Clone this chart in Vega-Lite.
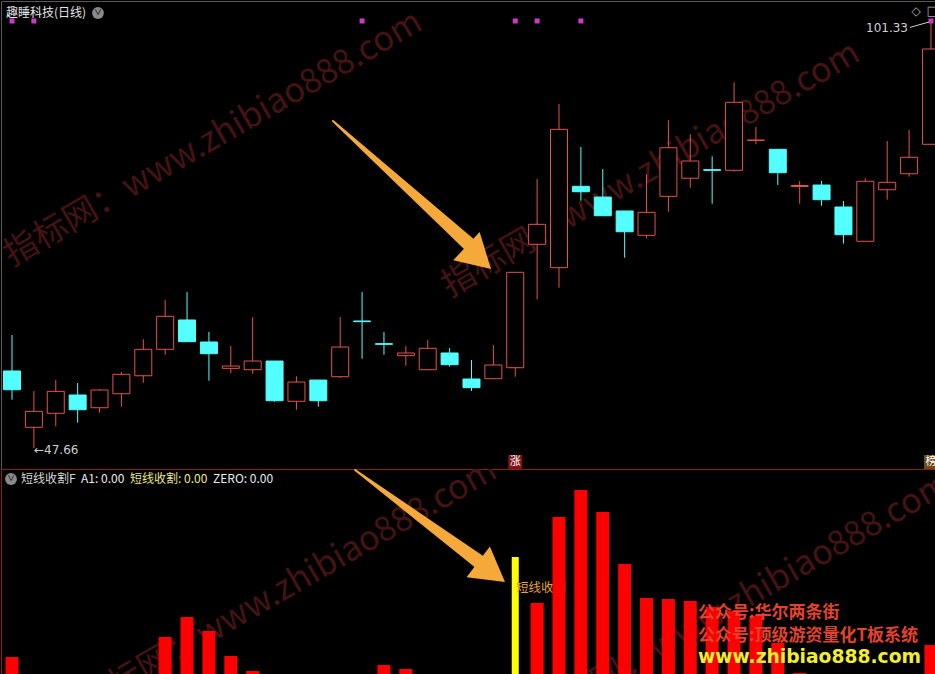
{
  "$schema": "https://vega.github.io/schema/vega-lite/v6.json",
  "background": "#000000",
  "padding": 0,
  "spacing": 0,
  "bounds": "flush",
  "config": {
    "view": {"stroke": null},
    "text": {"font": "Noto Sans CJK SC"},
    "axis": {"minExtent": 0, "maxExtent": 0},
    "scale": {"continuousPadding": 0}
  },
  "datasets": {
    "k": [
      {"i": 0, "o": 57.34, "h": 61.86, "l": 53.73, "c": 54.98, "bar": 18, "dot": 1},
      {"i": 1, "o": 50.26, "h": 54.82, "l": 47.66, "c": 52.27, "dot": 1},
      {"i": 2, "o": 52.02, "h": 56.2, "l": 50.38, "c": 54.78},
      {"i": 3, "o": 54.32, "h": 55.83, "l": 50.84, "c": 52.47},
      {"i": 4, "o": 52.72, "h": 55.07, "l": 52.09, "c": 54.95},
      {"i": 5, "o": 54.48, "h": 57.21, "l": 52.85, "c": 56.92},
      {"i": 6, "o": 56.74, "h": 61.32, "l": 55.86, "c": 60.06},
      {"i": 7, "o": 60.06, "h": 66.26, "l": 59.38, "c": 64.21, "bar": 38},
      {"i": 8, "o": 63.75, "h": 67.26, "l": 61.02, "c": 61.02, "bar": 58},
      {"i": 9, "o": 60.98, "h": 62.24, "l": 56.12, "c": 59.51, "bar": 44},
      {"i": 10, "o": 57.67, "h": 60.48, "l": 57.05, "c": 57.96, "bar": 19},
      {"i": 11, "o": 57.5, "h": 64.12, "l": 56.99, "c": 58.59, "bar": 4},
      {"i": 12, "o": 58.59, "h": 58.59, "l": 53.48, "c": 53.6},
      {"i": 13, "o": 53.53, "h": 56.67, "l": 52.47, "c": 55.95},
      {"i": 14, "o": 56.2, "h": 56.2, "l": 52.85, "c": 53.6},
      {"i": 15, "o": 56.62, "h": 64.12, "l": 56.49, "c": 60.35},
      {"i": 16, "o": 63.62, "h": 67.26, "l": 58.88, "c": 63.54, "dot": 1},
      {"i": 17, "o": 60.77, "h": 62.24, "l": 59.38, "c": 60.69, "bar": 10},
      {"i": 18, "o": 59.26, "h": 60.48, "l": 58.0, "c": 59.6, "bar": 6},
      {"i": 19, "o": 57.5, "h": 61.23, "l": 57.5, "c": 60.19},
      {"i": 20, "o": 59.6, "h": 60.23, "l": 57.88, "c": 58.13},
      {"i": 21, "o": 56.33, "h": 58.72, "l": 54.82, "c": 55.24},
      {"i": 22, "o": 56.37, "h": 60.6, "l": 56.37, "c": 58.09},
      {"i": 23, "o": 57.75, "h": 69.74, "l": 56.62, "c": 69.74, "yb": 118, "dot": 1, "tag": "涨"},
      {"i": 24, "o": 73.26, "h": 81.47, "l": 66.35, "c": 75.77, "bar": 72, "dot": 1},
      {"i": 25, "o": 70.32, "h": 90.89, "l": 67.81, "c": 87.71, "bar": 158},
      {"i": 26, "o": 80.55, "h": 85.49, "l": 78.74, "c": 79.87, "bar": 185, "dot": 1},
      {"i": 27, "o": 79.2, "h": 82.72, "l": 76.85, "c": 76.85, "bar": 163},
      {"i": 28, "o": 77.45, "h": 77.45, "l": 71.58, "c": 74.84, "bar": 111},
      {"i": 29, "o": 74.39, "h": 82.06, "l": 74.01, "c": 77.28, "bar": 77},
      {"i": 30, "o": 79.29, "h": 88.85, "l": 77.36, "c": 85.4, "bar": 76},
      {"i": 31, "o": 81.56, "h": 87.09, "l": 80.37, "c": 83.73, "bar": 74},
      {"i": 32, "o": 82.64, "h": 84.32, "l": 78.36, "c": 82.56, "bar": 68},
      {"i": 33, "o": 82.56, "h": 93.62, "l": 82.39, "c": 91.11, "bar": 64},
      {"i": 34, "o": 86.31, "h": 88.0, "l": 85.83, "c": 86.37, "bar": 59},
      {"i": 35, "o": 85.2, "h": 85.2, "l": 80.71, "c": 82.26, "bar": 32},
      {"i": 36, "o": 80.52, "h": 81.22, "l": 78.36, "c": 80.65, "bar": 2},
      {"i": 37, "o": 80.71, "h": 81.22, "l": 78.11, "c": 78.87},
      {"i": 38, "o": 77.95, "h": 78.7, "l": 73.34, "c": 74.47},
      {"i": 39, "o": 73.64, "h": 81.56, "l": 73.64, "c": 81.18},
      {"i": 40, "o": 80.12, "h": 86.24, "l": 78.87, "c": 81.05},
      {"i": 41, "o": 82.13, "h": 87.63, "l": 81.76, "c": 84.2},
      {"i": 42, "o": 85.83, "h": 101.33, "l": 85.83, "c": 97.81, "bar": 30, "dot": 1, "tag": "榜"}
    ],
    "arrowTop": [
      {"i": 14.67, "p": 88.76, "t": 0},
      {"i": 20.98, "p": 73.05, "t": 1}
    ],
    "arrowBottom": [
      {"i": 15.68, "v": 205, "t": 0},
      {"i": 21.43, "v": 112, "t": 1}
    ]
  },
  "vconcat": [
    {
      "width": 935,
      "height": 468,
      "view": {"stroke": "#5a5a5a"},
      "data": {"name": "k"},
      "layer": [
        {
          "mark": {"type": "rule", "strokeWidth": 1, "clip": true},
          "encoding": {
            "x": {"field": "i", "type": "quantitative", "scale": {"domain": [-0.503, 42.23], "nice": false, "zero": false, "padding": 0}, "axis": null},
            "y": {"field": "l", "type": "quantitative", "scale": {"domain": [45.02, 103.84], "nice": false, "zero": false, "padding": 0}, "title": null, "axis": {"title": null, "labels": false, "ticks": false, "domain": false, "grid": true, "gridColor": "#7a2626", "gridDash": [1, 3], "gridWidth": 1, "values": [49.8, 54.79, 59.78, 64.77, 69.76, 74.75, 79.74, 84.73, 89.72, 94.71, 99.7]}},
            "y2": {"field": "h"},
            "opacity": {"value": 0}
          }
        },
        {
          "data": {"values": [{}]},
          "mark": {"type": "text", "text": "指标网：www.zhibiao888.com", "angle": 330, "fontSize": 34, "color": "#461313", "clip": true},
          "encoding": {
            "x": {"datum": 9.2, "type": "quantitative", "axis": null},
            "y": {"datum": 86.5, "type": "quantitative", "axis": null}
          }
        },
        {
          "data": {"values": [{}]},
          "mark": {"type": "text", "text": "指标网：www.zhibiao888.com", "angle": 330, "fontSize": 34, "color": "#461313", "clip": true},
          "encoding": {
            "x": {"datum": 29.2, "type": "quantitative", "axis": null},
            "y": {"datum": 82.6, "type": "quantitative", "axis": null}
          }
        },
        {
          "mark": {"type": "rule", "strokeWidth": 1, "clip": true},
          "encoding": {
            "x": {"field": "i", "type": "quantitative", "axis": null},
            "y": {"field": "l", "type": "quantitative", "axis": null},
            "y2": {"field": "h"},
            "color": {"condition": {"test": "datum.c > datum.o", "value": "#e5534b"}, "value": "#54ffff"}
          }
        },
        {
          "mark": {"type": "bar", "width": 17, "strokeWidth": 1, "clip": true},
          "encoding": {
            "x": {"field": "i", "type": "quantitative", "axis": null},
            "y": {"field": "o", "type": "quantitative", "axis": null},
            "y2": {"field": "c"},
            "fill": {"condition": {"test": "datum.c > datum.o", "value": "#000000"}, "value": "#54ffff"},
            "stroke": {"condition": {"test": "datum.c > datum.o", "value": "#e5534b"}, "value": "#54ffff"}
          }
        },
        {
          "transform": [{"filter": "datum.dot == 1"}],
          "mark": {"type": "square", "size": 25, "color": "#c83cc8", "opacity": 1, "clip": true},
          "encoding": {
            "x": {"field": "i", "type": "quantitative", "axis": null},
            "y": {"datum": 101.33, "type": "quantitative", "axis": null}
          }
        },
        {
          "transform": [{"filter": "isValid(datum.tag)"}],
          "mark": {"type": "square", "size": 196, "opacity": 1, "clip": true},
          "encoding": {
            "x": {"field": "i", "type": "quantitative", "axis": null},
            "y": {"datum": 45.9, "type": "quantitative", "axis": null},
            "color": {"condition": {"test": "datum.tag == '涨'", "value": "#7e1515"}, "value": "#6e4c1c"}
          }
        },
        {
          "transform": [{"filter": "isValid(datum.tag)"}],
          "mark": {"type": "text", "fontSize": 11, "color": "#ffffff", "clip": true},
          "encoding": {
            "x": {"field": "i", "type": "quantitative", "axis": null},
            "y": {"datum": 45.9, "type": "quantitative", "axis": null},
            "text": {"field": "tag"}
          }
        },
        {
          "data": {"values": [{}]},
          "mark": {"type": "text", "text": "趣睡科技(日线)", "align": "left", "fontSize": 12, "color": "#e6e6e6"},
          "encoding": {
            "x": {"datum": -0.274, "type": "quantitative", "axis": null},
            "y": {"datum": 102.33, "type": "quantitative", "axis": null}
          }
        },
        {
          "data": {"values": [{}]},
          "mark": {"type": "circle", "size": 140, "color": "#8a8a8a", "opacity": 1},
          "encoding": {
            "x": {"datum": 3.93, "type": "quantitative", "axis": null},
            "y": {"datum": 102.33, "type": "quantitative", "axis": null}
          }
        },
        {
          "data": {"values": [{}]},
          "mark": {"type": "text", "text": "∨", "fontSize": 8, "fontWeight": "bold", "color": "#2a2a2a"},
          "encoding": {
            "x": {"datum": 3.93, "type": "quantitative", "axis": null},
            "y": {"datum": 102.33, "type": "quantitative", "axis": null}
          }
        },
        {
          "data": {"values": [{}]},
          "mark": {"type": "text", "text": "101.33", "align": "right", "fontSize": 12, "color": "#d0d0d0", "font": "DejaVu Sans"},
          "encoding": {
            "x": {"datum": 40.95, "type": "quantitative", "axis": null},
            "y": {"datum": 100.45, "type": "quantitative", "axis": null}
          }
        },
        {
          "data": {"values": [{"a": 41.04, "b": 100.52, "a2": 41.91, "b2": 101.2}]},
          "mark": {"type": "rule", "strokeWidth": 1, "color": "#d0d0d0"},
          "encoding": {
            "x": {"field": "a", "type": "quantitative", "axis": null},
            "x2": {"field": "a2"},
            "y": {"field": "b", "type": "quantitative", "axis": null},
            "y2": {"field": "b2"}
          }
        },
        {
          "data": {"values": [{}]},
          "mark": {"type": "text", "text": "←47.66", "align": "left", "fontSize": 12, "color": "#d0d0d0", "font": "DejaVu Sans"},
          "encoding": {
            "x": {"datum": 1.005, "type": "quantitative", "axis": null},
            "y": {"datum": 47.4, "type": "quantitative", "axis": null}
          }
        },
        {
          "data": {"values": [{}]},
          "mark": {"type": "text", "text": "◇", "fontSize": 12, "color": "#a8a8a8", "font": "DejaVu Sans", "clip": true},
          "encoding": {
            "x": {"datum": 41.32, "type": "quantitative", "axis": null},
            "y": {"datum": 102.58, "type": "quantitative", "axis": null}
          }
        },
        {
          "data": {"values": [{}]},
          "mark": {"type": "text", "text": "□", "fontSize": 13, "color": "#a8a8a8", "font": "DejaVu Sans", "clip": true},
          "encoding": {
            "x": {"datum": 42.08, "type": "quantitative", "axis": null},
            "y": {"datum": 102.58, "type": "quantitative", "axis": null}
          }
        },
        {
          "data": {"name": "arrowTop"},
          "mark": {"type": "trail", "color": "#f4a93a", "clip": true},
          "encoding": {
            "x": {"field": "i", "type": "quantitative", "axis": null},
            "y": {"field": "p", "type": "quantitative", "axis": null},
            "size": {"field": "t", "type": "quantitative", "scale": {"range": [2, 14]}, "legend": null}
          }
        },
        {
          "data": {"values": [{}]},
          "mark": {"type": "point", "shape": "triangle-up", "filled": true, "size": 1500, "angle": 133, "color": "#f4a93a", "opacity": 1, "clip": true},
          "encoding": {
            "x": {"datum": 21.33, "type": "quantitative", "axis": null},
            "y": {"datum": 71.6, "type": "quantitative", "axis": null}
          }
        }
      ]
    },
    {
      "width": 935,
      "height": 206,
      "view": {"stroke": "#8a1e1e"},
      "data": {"name": "k"},
      "layer": [
        {
          "mark": {"type": "bar", "width": 13, "color": "#ff0000", "clip": true},
          "encoding": {
            "x": {"field": "i", "type": "quantitative", "scale": {"domain": [-0.503, 42.23], "nice": false, "zero": false, "padding": 0}, "axis": null},
            "y": {"field": "bar", "type": "quantitative", "scale": {"domain": [0, 206], "nice": false, "zero": false, "padding": 0}, "axis": {"title": null, "labels": false, "ticks": false, "domain": false, "grid": true, "gridColor": "#7a2626", "gridDash": [1, 3], "gridWidth": 1, "values": [18, 62, 105, 149]}},
            "opacity": {"value": 0}
          }
        },
        {
          "data": {"values": [{}]},
          "mark": {"type": "text", "text": "指标网：www.zhibiao888.com", "angle": 330, "fontSize": 34, "color": "#461313", "clip": true},
          "encoding": {
            "x": {"datum": 12.61, "type": "quantitative", "axis": null},
            "y": {"datum": 88, "type": "quantitative", "axis": null}
          }
        },
        {
          "data": {"values": [{}]},
          "mark": {"type": "text", "text": "指标网：www.zhibiao888.com", "angle": 330, "fontSize": 34, "color": "#461313", "clip": true},
          "encoding": {
            "x": {"datum": 33.32, "type": "quantitative", "axis": null},
            "y": {"datum": 74, "type": "quantitative", "axis": null}
          }
        },
        {
          "mark": {"type": "bar", "width": 7, "color": "#ffff00", "clip": true},
          "encoding": {
            "x": {"field": "i", "type": "quantitative", "axis": null},
            "y": {"field": "yb", "type": "quantitative", "axis": null}
          }
        },
        {
          "data": {"values": [{}]},
          "mark": {"type": "text", "text": "短线收割", "align": "left", "fontSize": 12.5, "color": "#e8a040", "clip": true},
          "encoding": {
            "x": {"datum": 23.04, "type": "quantitative", "axis": null},
            "y": {"datum": 87, "type": "quantitative", "axis": null}
          }
        },
        {
          "mark": {"type": "bar", "width": 13, "color": "#ff0000", "clip": true},
          "encoding": {
            "x": {"field": "i", "type": "quantitative", "axis": null},
            "y": {"field": "bar", "type": "quantitative", "axis": null}
          }
        },
        {
          "data": {"values": [{}]},
          "mark": {"type": "circle", "size": 140, "color": "#8a8a8a", "opacity": 1},
          "encoding": {
            "x": {"datum": -0.046, "type": "quantitative", "axis": null},
            "y": {"datum": 196, "type": "quantitative", "axis": null}
          }
        },
        {
          "data": {"values": [{}]},
          "mark": {"type": "text", "text": "∨", "fontSize": 8, "fontWeight": "bold", "color": "#2a2a2a"},
          "encoding": {
            "x": {"datum": -0.046, "type": "quantitative", "axis": null},
            "y": {"datum": 196, "type": "quantitative", "axis": null}
          }
        },
        {
          "data": {"values": [{}]},
          "mark": {"type": "text", "text": "短线收割F", "align": "left", "fontSize": 12, "color": "#d6d6d6"},
          "encoding": {
            "x": {"datum": 0.411, "type": "quantitative", "axis": null},
            "y": {"datum": 196, "type": "quantitative", "axis": null}
          }
        },
        {
          "data": {"values": [{}]},
          "mark": {"type": "text", "text": "A1: 0.00", "align": "left", "fontSize": 12, "color": "#ececec"},
          "encoding": {
            "x": {"datum": 3.153, "type": "quantitative", "axis": null},
            "y": {"datum": 196, "type": "quantitative", "axis": null}
          }
        },
        {
          "data": {"values": [{}]},
          "mark": {"type": "text", "text": "短线收割: 0.00", "align": "left", "fontSize": 12, "color": "#eee68a"},
          "encoding": {
            "x": {"datum": 5.393, "type": "quantitative", "axis": null},
            "y": {"datum": 196, "type": "quantitative", "axis": null}
          }
        },
        {
          "data": {"values": [{}]},
          "mark": {"type": "text", "text": "ZERO: 0.00", "align": "left", "fontSize": 12, "color": "#ececec"},
          "encoding": {
            "x": {"datum": 9.186, "type": "quantitative", "axis": null},
            "y": {"datum": 196, "type": "quantitative", "axis": null}
          }
        },
        {
          "data": {"values": [{}]},
          "mark": {"type": "text", "text": "公众号:华尔两条街", "align": "left", "fontSize": 17, "fontWeight": "bold", "color": "#e2432e", "clip": true},
          "encoding": {
            "x": {"datum": 31.35, "type": "quantitative", "axis": null},
            "y": {"datum": 62.5, "type": "quantitative", "axis": null}
          }
        },
        {
          "data": {"values": [{}]},
          "mark": {"type": "text", "text": "公众号:顶级游资量化T板系统", "align": "left", "fontSize": 17, "fontWeight": "bold", "color": "#e2432e", "clip": true},
          "encoding": {
            "x": {"datum": 31.35, "type": "quantitative", "axis": null},
            "y": {"datum": 39, "type": "quantitative", "axis": null}
          }
        },
        {
          "data": {"values": [{}]},
          "mark": {"type": "text", "text": "www.zhibiao888.com", "align": "left", "fontSize": 18.7, "fontWeight": "bold", "color": "#f2ee2e", "font": "DejaVu Sans", "clip": true},
          "encoding": {
            "x": {"datum": 31.35, "type": "quantitative", "axis": null},
            "y": {"datum": 18, "type": "quantitative", "axis": null}
          }
        },
        {
          "data": {"name": "arrowBottom"},
          "mark": {"type": "trail", "color": "#f4a93a", "clip": true},
          "encoding": {
            "x": {"field": "i", "type": "quantitative", "axis": null},
            "y": {"field": "v", "type": "quantitative", "axis": null},
            "size": {"field": "t", "type": "quantitative", "scale": {"range": [2, 14]}, "legend": null}
          }
        },
        {
          "data": {"values": [{}]},
          "mark": {"type": "point", "shape": "triangle-up", "filled": true, "size": 1500, "angle": 127, "color": "#f4a93a", "opacity": 1, "clip": true},
          "encoding": {
            "x": {"datum": 21.92, "type": "quantitative", "axis": null},
            "y": {"datum": 103, "type": "quantitative", "axis": null}
          }
        }
      ]
    }
  ]
}
